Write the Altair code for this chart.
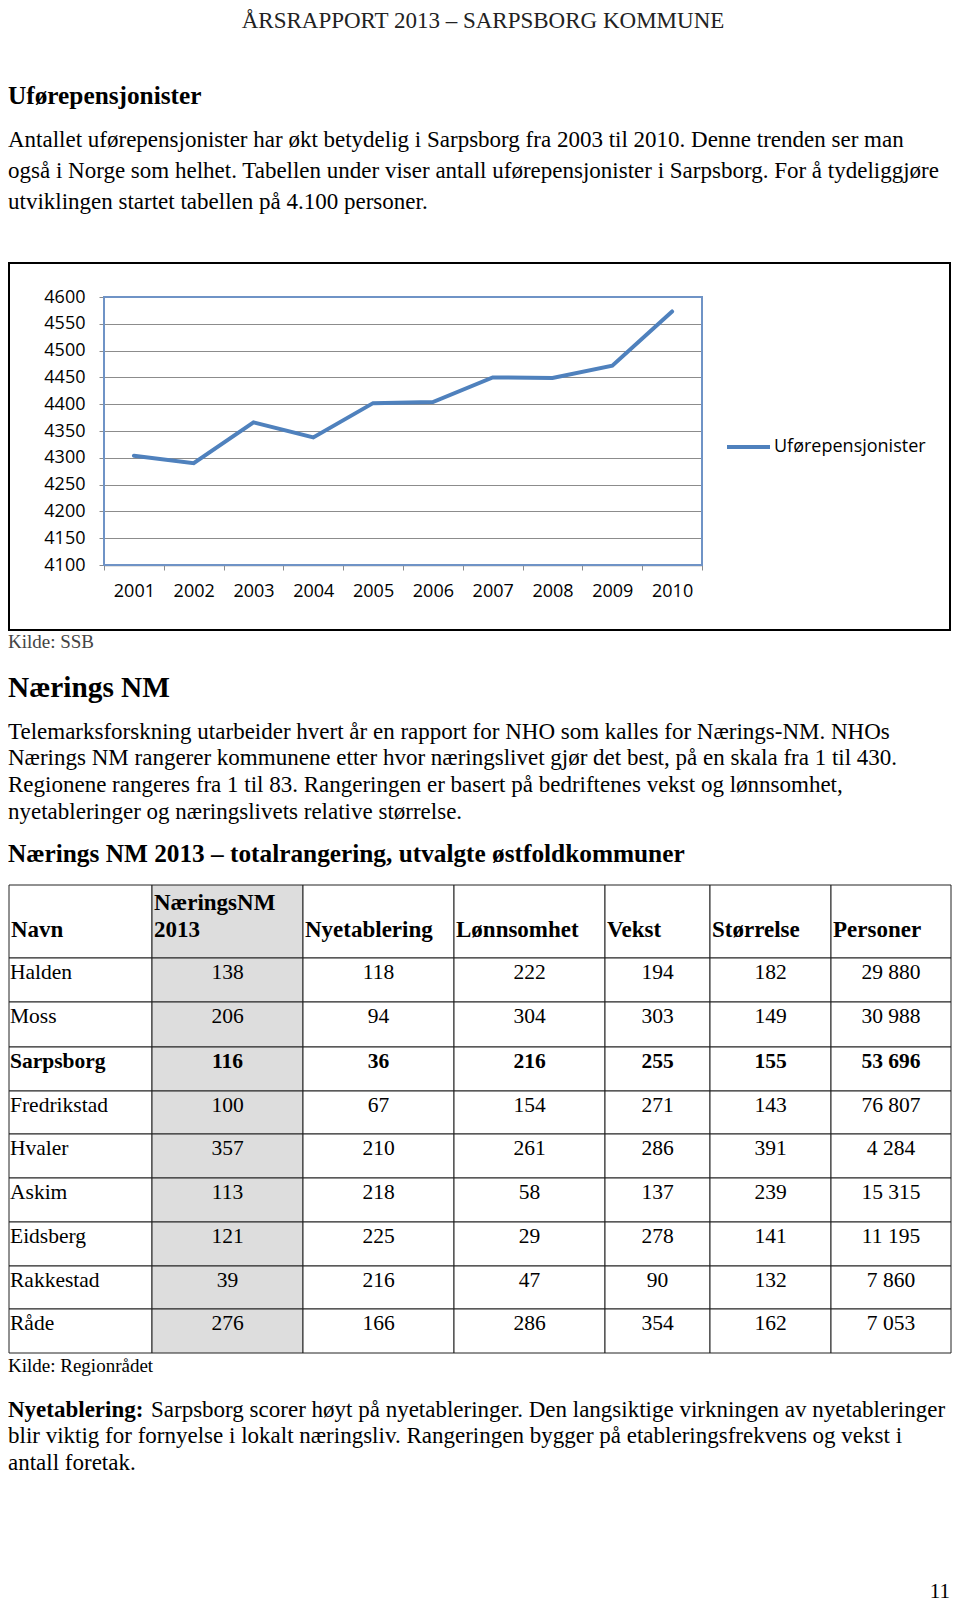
import altair as alt
import pandas as pd

# ---------------- data ----------------
YEARS = [2001, 2002, 2003, 2004, 2005, 2006, 2007, 2008, 2009, 2010]
UFOREPENSJONISTER = [4304, 4290, 4366, 4338, 4402, 4404, 4450, 4449, 4472, 4573]
Y_TICKS = [4100, 4150, 4200, 4250, 4300, 4350, 4400, 4450, 4500, 4550, 4600]

NAVN = ["Halden", "Moss", "Sarpsborg", "Fredrikstad", "Hvaler", "Askim",
        "Eidsberg", "Rakkestad", "Råde"]
NM2013 = [138, 206, 116, 100, 357, 113, 121, 39, 276]
NYETABLERING = [118, 94, 36, 67, 210, 218, 225, 216, 166]
LONNSOMHET = [222, 304, 216, 154, 261, 58, 29, 47, 286]
VEKST = [194, 303, 255, 271, 286, 137, 278, 90, 354]
STORRELSE = [182, 149, 155, 143, 391, 239, 141, 132, 162]
PERSONER = [29880, 30988, 53696, 76807, 4284, 15315, 11195, 7860, 7053]
HEADERS = [["Navn"], ["NæringsNM", "2013"], ["Nyetablering"], ["Lønnsomhet"],
           ["Vekst"], ["Størrelse"], ["Personer"]]
BOLD_ROW = "Sarpsborg"

HEADER_TEXT = "ÅRSRAPPORT 2013 – SARPSBORG KOMMUNE"
H1 = "Uførepensjonister"
PARA1 = ["Antallet uførepensjonister har økt betydelig i Sarpsborg fra 2003 til 2010. Denne trenden ser man",
         "også i Norge som helhet. Tabellen under viser antall uførepensjonister i Sarpsborg. For å tydeliggjøre",
         "utviklingen startet tabellen på 4.100 personer."]
SOURCE1 = "Kilde: SSB"
H2 = "Nærings NM"
PARA2 = ["Telemarksforskning utarbeider hvert år en rapport for NHO som kalles for Nærings-NM. NHOs",
         "Nærings NM rangerer kommunene etter hvor næringslivet gjør det best, på en skala fra 1 til 430.",
         "Regionene rangeres fra 1 til 83. Rangeringen er basert på bedriftenes vekst og lønnsomhet,",
         "nyetableringer og næringslivets relative størrelse."]
H3 = "Nærings NM 2013 – totalrangering, utvalgte østfoldkommuner"
SOURCE2 = "Kilde: Regionrådet"
PARA3_BOLD = "Nyetablering:"
PARA3 = ["Sarpsborg scorer høyt på nyetableringer. Den langsiktige virkningen av nyetableringer",
         "blir viktig for fornyelse i lokalt næringsliv. Rangeringen bygger på etableringsfrekvens og vekst i",
         "antall foretak."]
PAGE_NO = "11"
SERIES = "Uførepensjonister"

# ---------------- layout (page pixel coordinates) ----------------
SERIF = "Liberation Serif"
SANS = "Open Sans"
BODY = 23
PLOT_L, PLOT_T, PLOT_R, PLOT_B = 104, 297, 702, 565
PW, PH = PLOT_R - PLOT_L, PLOT_B - PLOT_T
PAGE_W, PAGE_H = 944, 1598


def px(p):
    return p - PLOT_L


def py(q):
    return q - PLOT_T


def txt(s, x, y, size=BODY, bold=False, align="left", font=SERIF, color="#000000"):
    return alt.Chart(pd.DataFrame({"t": [s]})).mark_text(
        align=align, baseline="middle", font=font, fontSize=size,
        fontWeight="bold" if bold else "normal", color=color
    ).encode(x=alt.value(px(x)), y=alt.value(py(y)), text="t:N")


layers = []

# page texts
layers.append(txt(HEADER_TEXT, 483, 21, size=23, align="center", color="#222222"))
layers.append(txt(H1, 8, 96, size=25.3, bold=True))
for line, yy in zip(PARA1, [140, 171, 202]):
    layers.append(txt(line, 8, yy))

# chart frame
frame = alt.Chart(pd.DataFrame({"a": [0]})).mark_rect(
    fill="transparent", stroke="#000000", strokeWidth=2
).encode(x=alt.value(px(9)), x2=alt.value(px(950)), y=alt.value(py(263)), y2=alt.value(py(630)))
layers.append(frame)

# line chart
line_df = pd.DataFrame({"year": YEARS, "value": UFOREPENSJONISTER})
xenc = alt.X("year:O", bandPosition=0.5,
             scale=alt.Scale(type="band", paddingInner=0, paddingOuter=0),
             axis=alt.Axis(title=None, labelAngle=0, tickBand="extent", labelFont=SANS,
                           labelFontSize=18, labelColor="#000000", domainColor="#8c8c8c",
                           tickColor="#8c8c8c", tickSize=5, labelPadding=12, grid=False,
                           domainWidth=1.5))
yenc = alt.Y("value:Q", scale=alt.Scale(domain=[4100, 4600], nice=False, zero=False),
             axis=alt.Axis(title=None, values=Y_TICKS, format="d", labelFont=SANS,
                           labelFontSize=18, labelColor="#000000", grid=True,
                           gridColor="#8c8c8c", gridWidth=1, domain=False,
                           tickColor="#8c8c8c", tickSize=5, labelPadding=14))
line = alt.Chart(line_df).mark_line(color="#4F81BD", strokeWidth=4, strokeCap="round").encode(
    x=xenc, y=yenc)
layers.append(line)

plot_border = alt.Chart(pd.DataFrame({"a": [0]})).mark_rect(
    fill="transparent", stroke="#6F93C6", strokeWidth=2
).encode(x=alt.value(0), x2=alt.value(PW), y=alt.value(0), y2=alt.value(PH))
layers.append(plot_border)

# legend
leg_line = alt.Chart(pd.DataFrame({"a": [0]})).mark_rule(color="#4F81BD", strokeWidth=4).encode(
    x=alt.value(px(727)), x2=alt.value(px(770)), y=alt.value(py(447)))
layers.append(leg_line)
layers.append(txt(SERIES, 774, 447, size=18, font=SANS))

layers.append(txt(SOURCE1, 8, 642, size=19, color="#444444"))
layers.append(txt(H2, 8, 688, size=29.3, bold=True))
for line_s, yy in zip(PARA2, [732, 758, 785, 812]):
    layers.append(txt(line_s, 8, yy))
layers.append(txt(H3, 8, 854, size=25.3, bold=True))

# table
COL_EDGES = [9, 152, 303, 454, 605, 710, 831, 951]
ROW_EDGES = [885, 958, 1002, 1047, 1091, 1134, 1178, 1222, 1266, 1309, 1353]

cells = []
for c in range(7):
    for r in range(10):
        cells.append({"x0": px(COL_EDGES[c]), "x1": px(COL_EDGES[c + 1]),
                      "y0": py(ROW_EDGES[r]), "y1": py(ROW_EDGES[r + 1]),
                      "shade": "g" if c == 1 else "w"})
cell_df = pd.DataFrame(cells)
cell_rects = alt.Chart(cell_df).mark_rect(stroke="#222222", strokeWidth=1).encode(
    x=alt.X("x0:Q", scale=None, axis=None), x2="x1:Q",
    y=alt.Y("y0:Q", scale=None, axis=None), y2="y1:Q",
    fill=alt.Fill("shade:N", scale=alt.Scale(domain=["g", "w"], range=["#DDDDDD", "#FFFFFF"]),
                  legend=None))
layers.append(cell_rects)

# header texts
hdr = []
for c, lines in enumerate(HEADERS):
    ys = [930] if len(lines) == 1 else [903, 930]
    for s, yy in zip(lines, ys):
        hdr.append({"x": px(COL_EDGES[c] + 2), "y": py(yy), "t": s})
hdr_df = pd.DataFrame(hdr)
layers.append(alt.Chart(hdr_df).mark_text(align="left", baseline="middle", font=SERIF,
                                          fontSize=23, fontWeight="bold").encode(
    x=alt.X("x:Q", scale=None, axis=None), y=alt.Y("y:Q", scale=None, axis=None), text="t:N"))

cols = [NAVN, NM2013, NYETABLERING, LONNSOMHET, VEKST, STORRELSE,
        [f"{v:,}".replace(",", " ") for v in PERSONER]]
body = []
for r in range(9):
    for c in range(7):
        val = cols[c][r]
        if c == 0:
            xx, al = COL_EDGES[0] + 1, "left"
        else:
            xx, al = (COL_EDGES[c] + COL_EDGES[c + 1]) / 2, "center"
        body.append({"x": px(xx), "y": py(ROW_EDGES[r + 1] + 15), "t": str(val),
                     "al": al, "bold": NAVN[r] == BOLD_ROW})
body_df = pd.DataFrame(body)
for al in ["left", "center"]:
    for b in [False, True]:
        layers.append(alt.Chart(body_df).transform_filter(
            (alt.datum.al == al) & (alt.datum.bold == b)
        ).mark_text(align=al, baseline="middle", font=SERIF, fontSize=21.5,
                    fontWeight="bold" if b else "normal").encode(
            x=alt.X("x:Q", scale=None, axis=None), y=alt.Y("y:Q", scale=None, axis=None),
            text="t:N"))

layers.append(txt(SOURCE2, 8, 1366, size=19))
layers.append(txt(PARA3_BOLD, 8, 1410, bold=True))
layers.append(txt(PARA3[0], 151, 1410))
layers.append(txt(PARA3[1], 8, 1436))
layers.append(txt(PARA3[2], 8, 1463))
layers.append(txt(PAGE_NO, 950, 1592, size=21, align="right"))

chart = alt.layer(*layers).resolve_scale(
    x="independent", y="independent", fill="independent"
).properties(
    width=PW, height=PH,
    padding={"left": PLOT_L - 8, "top": PLOT_T - 8,
             "right": PAGE_W - (PLOT_R - 8), "bottom": PAGE_H - (PLOT_B - 8)},
    autosize=alt.AutoSizeParams(type="none"),
).configure_view(stroke=None).configure(background="#ffffff")

chart.save("out.html", embed_options={"renderer": "svg", "actions": False})
